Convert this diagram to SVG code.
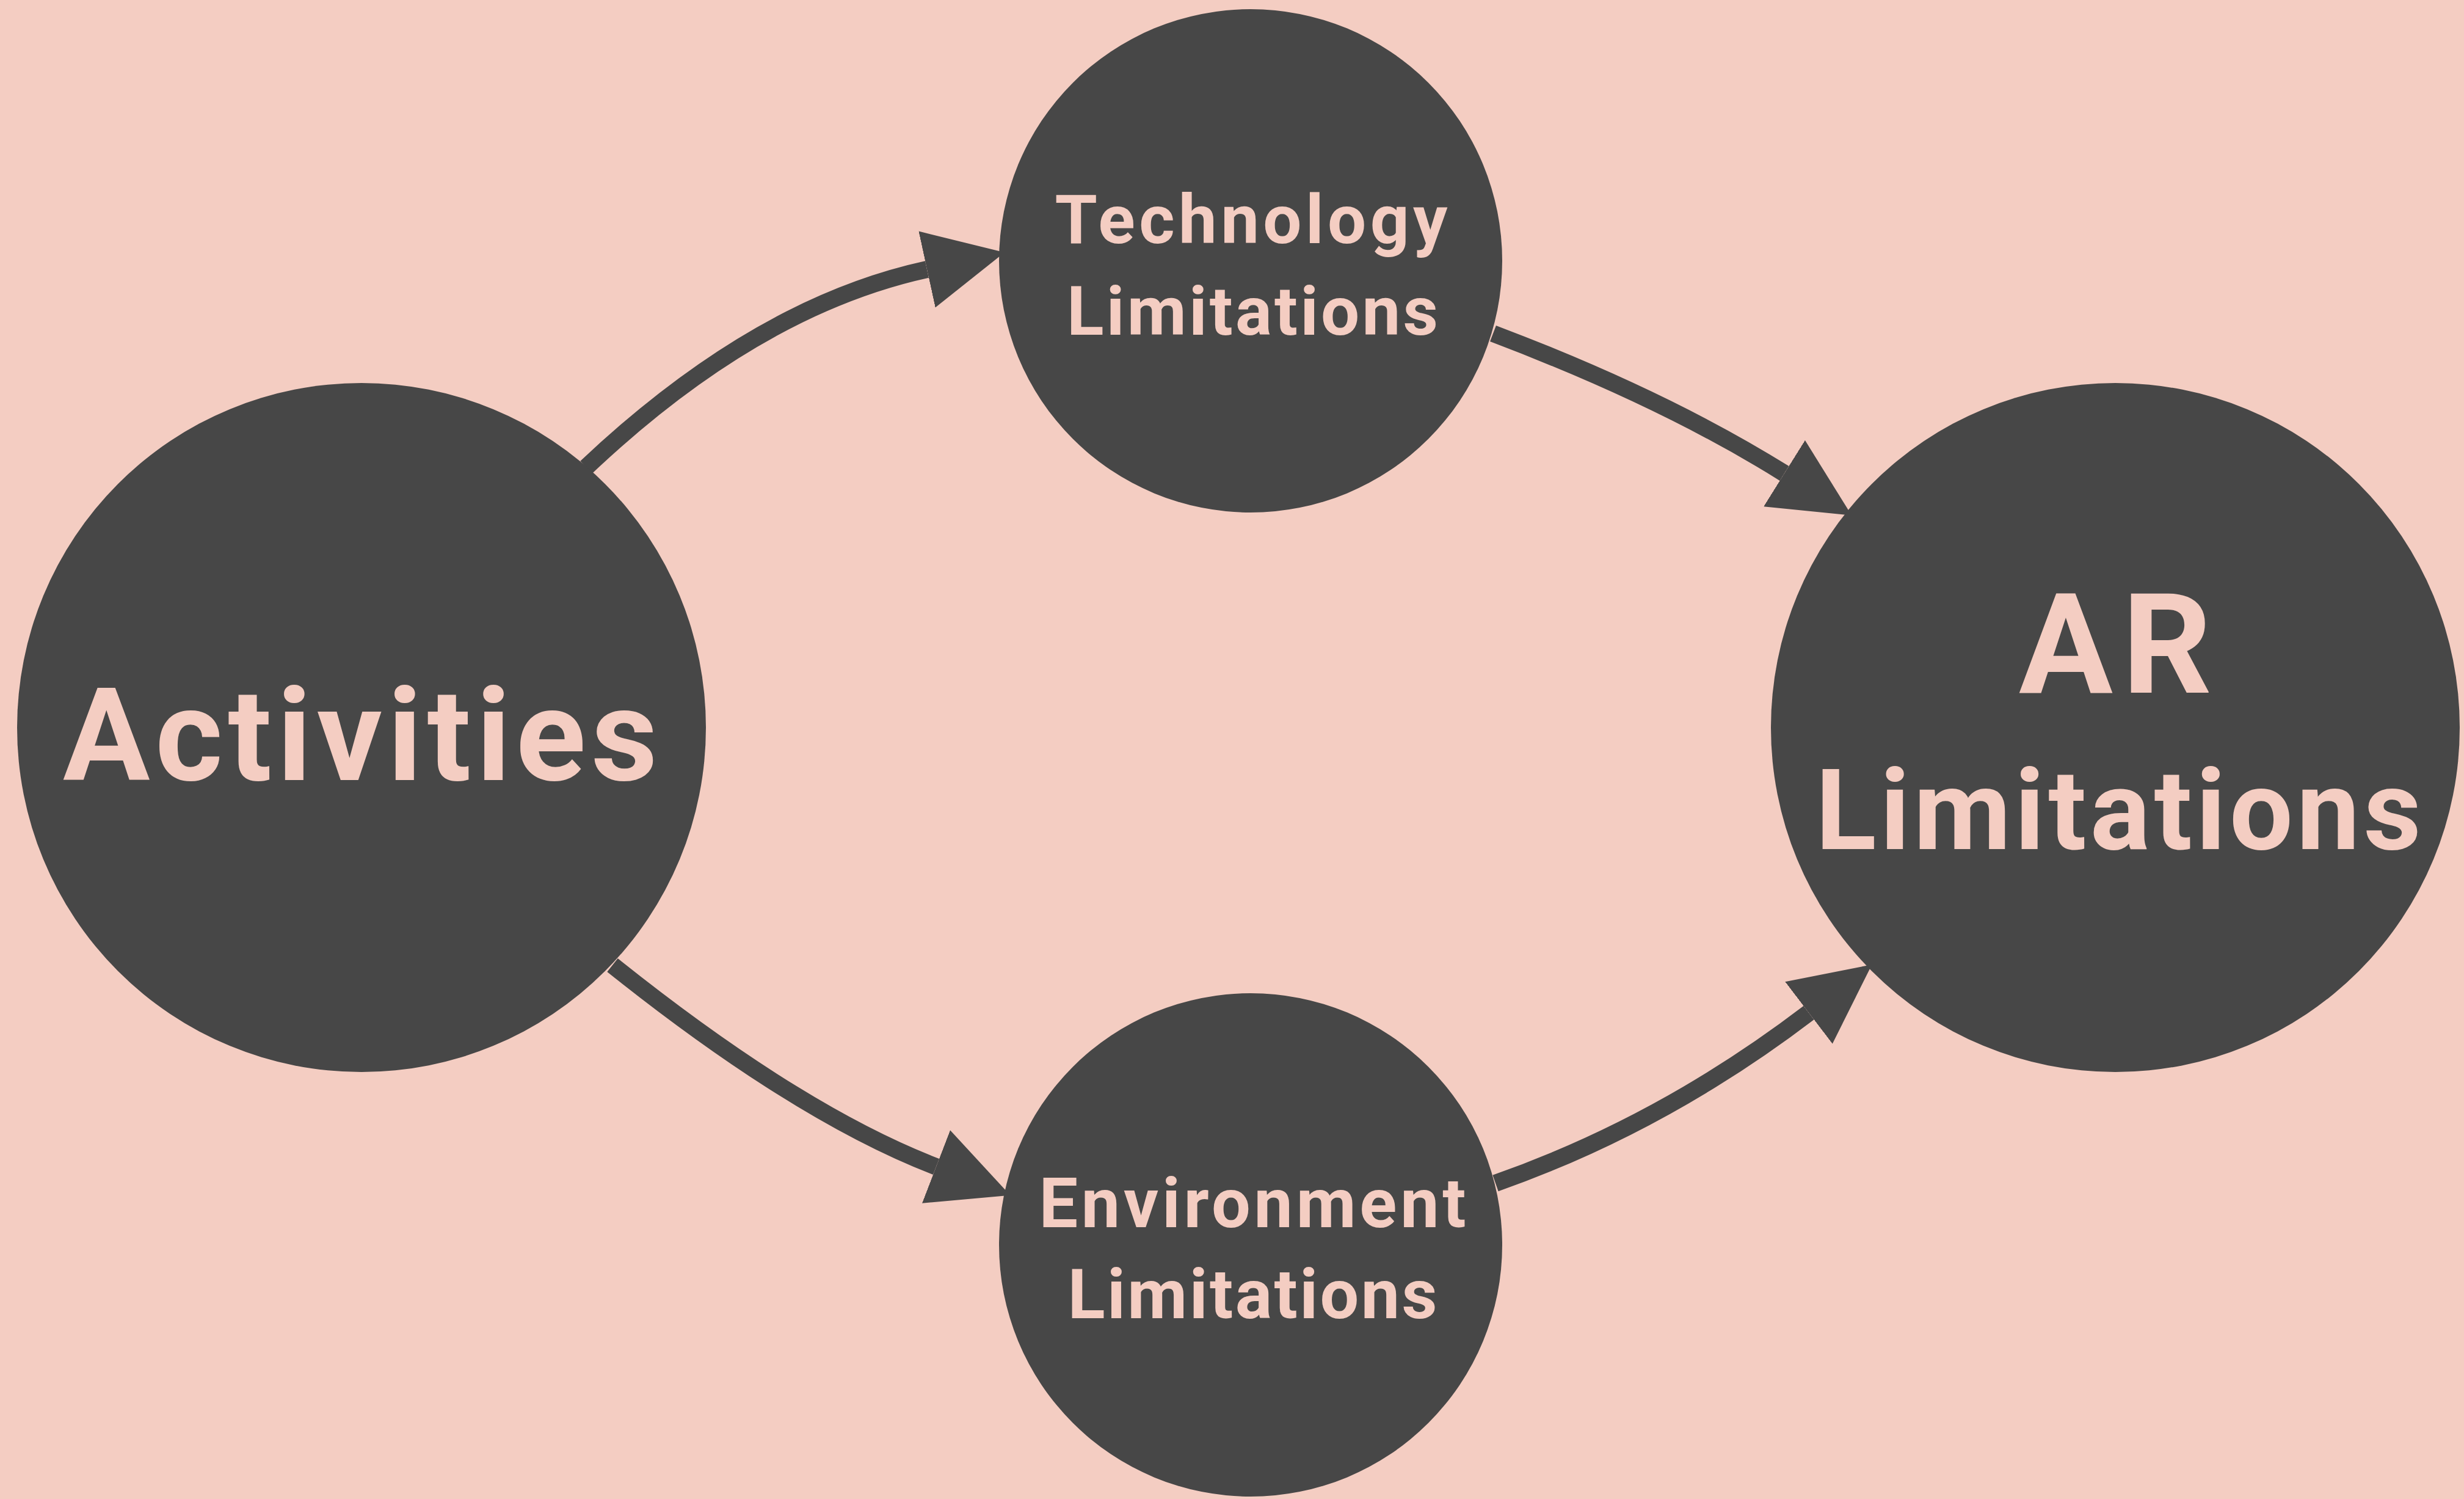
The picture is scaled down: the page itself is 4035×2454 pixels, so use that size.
<svg xmlns="http://www.w3.org/2000/svg" width="4035" height="2454" viewBox="0 0 4035 2454">
<style>
.node{fill:#474747}
.lbl{fill:#F4CDC2;font-family:Roboto,"Open Sans","Liberation Sans",sans-serif;font-weight:700;text-anchor:middle}
.edge{fill:none;stroke:#474747;stroke-width:28}
</style>
<defs>
<marker id="ah" markerUnits="userSpaceOnUse" markerWidth="130" markerHeight="130" refX="0" refY="60" orient="auto" viewBox="0 0 122 120">
<path d="M0,0 L122,60 L0,120 Z" fill="#474747"/>
</marker>
</defs>
<rect width="4035" height="2454" fill="#F4CDC2"/>
<g id="connectors">
<path class="edge" d="M960,765 Q1238,502 1518,441" marker-end="url(#ah)"/>
<path class="edge" d="M2445,546 Q2725,652 2922,775" marker-end="url(#ah)"/>
<path class="edge" d="M1003,1580 Q1307,1823 1533,1910" marker-end="url(#ah)"/>
<path class="edge" d="M2449,1937 Q2722,1841 2962,1658" marker-end="url(#ah)"/>
</g>
<g id="activities">
<circle class="node" cx="592" cy="1191" r="564"/>
<text class="lbl" x="590" y="1277" font-size="212" textLength="974" lengthAdjust="spacing">Activities</text>
</g>
<g id="technology">
<circle class="node" cx="2048" cy="427" r="412"/>
<text class="lbl" x="2049" y="398" font-size="112" textLength="643" lengthAdjust="spacing">Technology</text>
<text class="lbl" x="2051" y="548" font-size="112" textLength="608" lengthAdjust="spacing">Limitations</text>
</g>
<g id="environment">
<circle class="node" cx="2048" cy="2038" r="412"/>
<text class="lbl" x="2051" y="2009" font-size="113" textLength="699" lengthAdjust="spacing">Environment</text>
<text class="lbl" x="2051" y="2158" font-size="113" textLength="605" lengthAdjust="spacing">Limitations</text>
</g>
<g id="ar">
<circle class="node" cx="3464" cy="1191" r="564"/>
<text class="lbl" x="3464" y="1134" font-size="229" textLength="316" lengthAdjust="spacing">AR</text>
<text class="lbl" x="3469" y="1390" font-size="184" textLength="992" lengthAdjust="spacing">Limitations</text>
</g>
</svg>
